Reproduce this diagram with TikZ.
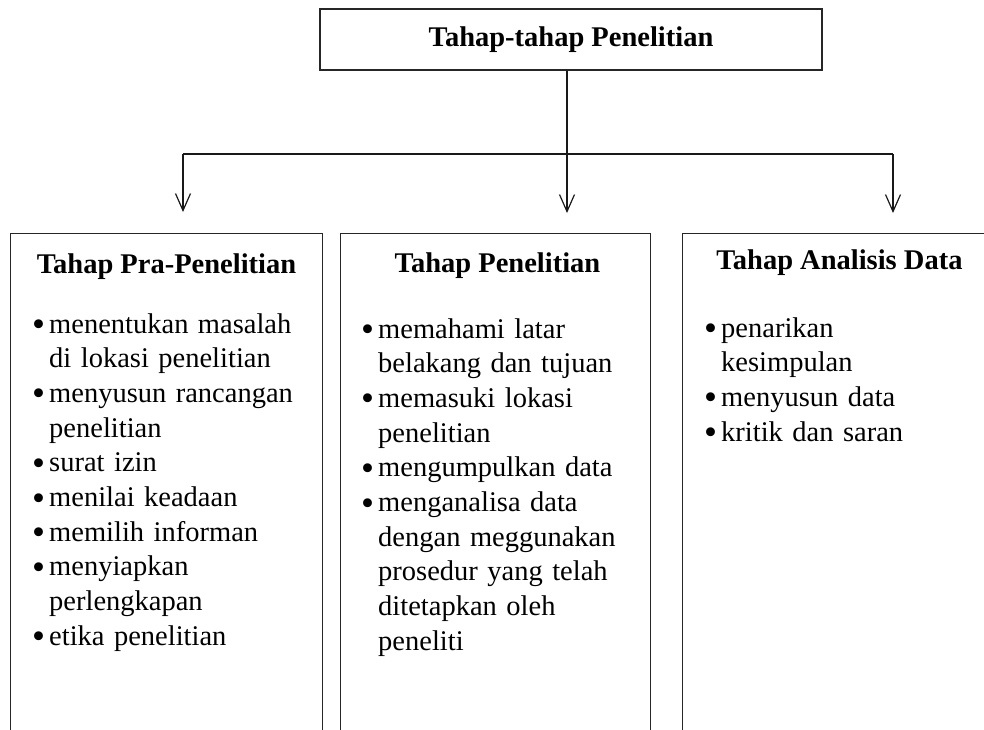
\documentclass[tikz,border=0pt]{standalone}
\usepackage{fontspec}
\setmainfont{Liberation Serif}
\usetikzlibrary{positioning, arrows.meta, calc}
\newcommand{\titik}{\raisebox{-3.5pt}{\scalebox{1.3}{\textbullet}}}
\newcommand{\butir}[1]{\hangindent=17pt\hangafter=1\noindent\makebox[17pt][l]{\titik}#1\par}
\tikzset{
  headbox/.style={rectangle, draw=black!85, line width=1.3pt, minimum width=502pt, minimum height=61pt, inner sep=0pt, font=\bfseries\fontsize{28.5}{34.7}\selectfont},
  stagebox/.style={rectangle, draw=black!85, line width=1pt, minimum height=560pt, anchor=north west},
  stagetitle/.style={inner sep=0pt, anchor=base, font=\bfseries\fontsize{28.5}{34.7}\selectfont},
  itemlist/.style={text width=300pt, align=left, inner sep=0pt, anchor=base west, font=\fontsize{28.5}{34.7}\selectfont},
  trunk/.style={line width=1.2pt, draw=black!90},
  arrow/.style={trunk, -{Straight Barb[length=17pt, width=15pt, line width=1.2pt]}}
}
\begin{document}
\begin{tikzpicture}[x=1pt, y=-1pt]
  \useasboundingbox (0,0) rectangle (984,729);

  \node (head) [headbox] at (571,39.5) {Tahap-tahap Penelitian};

  % Kotak tahap
  \node (pra) [stagebox, minimum width=312pt] at (10,233) {};
  \node (pen) [stagebox, minimum width=310pt] at (340,233) {};
  \node (ana) [stagebox, minimum width=314pt] at (682,233) {};

  % Percabangan
  \coordinate (hub) at (567,154);
  \coordinate (branchA) at (183,154);
  \coordinate (branchC) at (893,154);
  \coordinate (tipA) at (183,212);
  \coordinate (tipB) at (567,213);
  \coordinate (tipC) at (893,213);

  \draw [trunk] (head.south -| hub) -- (hub);
  \draw [trunk] (branchA) -- (branchC);
  \draw [arrow] (branchA) -- (tipA);
  \draw [arrow] (hub) -- (tipB);
  \draw [arrow] (branchC) -- (tipC);

  % Judul tiap tahap
  \node (praTitle) [stagetitle] at ($(pra.north)+(0,40)$) {Tahap Pra-Penelitian};
  \node (penTitle) [stagetitle] at ($(pen.north)+(2,39)$) {Tahap Penelitian};
  \node (anaTitle) [stagetitle] at ($(ana.north)+(0,36)$) {Tahap Analisis Data};

  % Isi tiap tahap
  \node (praList) [itemlist] at ($(pra.north west)+(22,100)$) {%
    \butir{menentukan masalah\newline di lokasi penelitian}
    \butir{menyusun rancangan\newline penelitian}
    \butir{surat izin}
    \butir{menilai keadaan}
    \butir{memilih informan}
    \butir{menyiapkan\newline perlengkapan}
    \butir{etika penelitian}};
  \node (penList) [itemlist] at ($(pen.north west)+(21,105)$) {%
    \butir{memahami latar\newline belakang dan tujuan}
    \butir{memasuki lokasi\newline penelitian}
    \butir{mengumpulkan data}
    \butir{menganalisa data\newline dengan meggunakan\newline prosedur yang telah\newline ditetapkan oleh\newline peneliti}};
  \node (anaList) [itemlist] at ($(ana.north west)+(22,104)$) {%
    \butir{penarikan\newline kesimpulan}
    \butir{menyusun data}
    \butir{kritik dan saran}};
\end{tikzpicture}
\end{document}
